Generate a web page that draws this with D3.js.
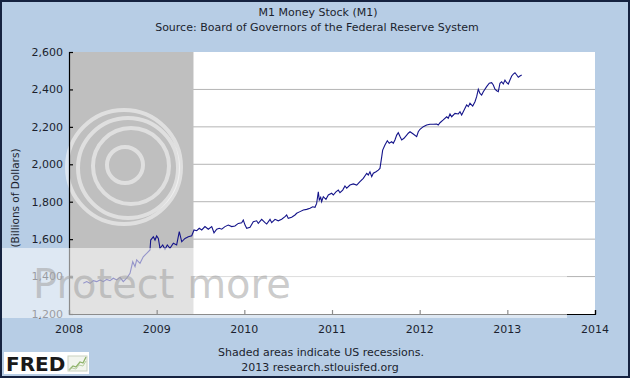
<!DOCTYPE html>
<html>
<head>
<meta charset="utf-8">
<script src="https://cdn.jsdelivr.net/npm/d3@7"></script>
<style>
body{margin:0;background:#fff}
svg text{font-family:"DejaVu Sans",Verdana,sans-serif}
</style>
</head>
<body>
<div id="chart"></div>
<script>
// M1 money stock, weekly-ish readings (decimal year, billions of dollars)
const dates = [
  2008.163,2008.202,2008.240,2008.277,2008.316,2008.354,2008.391,2008.430,2008.468,2008.505,
  2008.544,2008.582,2008.619,2008.658,2008.696,2008.727,2008.753,2008.772,2008.810,2008.847,
  2008.886,2008.924,2008.932,2008.962,2008.981,2009.000,2009.019,2009.038,2009.069,2009.095,
  2009.121,2009.152,2009.190,2009.228,2009.258,2009.286,2009.323,2009.361,2009.400,2009.426,
  2009.457,2009.486,2009.514,2009.551,2009.589,2009.628,2009.654,2009.685,2009.714,2009.742,
  2009.779,2009.817,2009.856,2009.893,2009.931,2009.970,2009.988,2010.008,2010.027,2010.065,
  2010.102,2010.141,2010.159,2010.198,2010.236,2010.255,2010.293,2010.312,2010.350,2010.387,
  2010.426,2010.464,2010.483,2010.501,2010.540,2010.578,2010.597,2010.635,2010.673,2010.711,
  2010.749,2010.780,2010.806,2010.825,2010.844,2010.855,2010.871,2010.882,2010.901,2010.931,
  2010.958,2010.996,2011.015,2011.045,2011.072,2011.091,2011.122,2011.148,2011.168,2011.205,
  2011.243,2011.282,2011.319,2011.357,2011.396,2011.414,2011.433,2011.453,2011.471,2011.502,
  2011.528,2011.547,2011.567,2011.578,2011.604,2011.631,2011.653,2011.681,2011.699,2011.718,
  2011.738,2011.756,2011.776,2011.795,2011.821,2011.852,2011.870,2011.890,2011.927,2011.966,
  2011.984,2012.004,2012.041,2012.080,2012.118,2012.155,2012.194,2012.212,2012.232,2012.269,
  2012.308,2012.326,2012.346,2012.365,2012.403,2012.441,2012.460,2012.479,2012.517,2012.536,
  2012.555,2012.574,2012.605,2012.631,2012.650,2012.669,2012.688,2012.707,2012.726,2012.764,
  2012.794,2012.821,2012.840,2012.859,2012.879,2012.897,2012.916,2012.935,2012.954,2012.973,
  2012.993,2013.011,2013.030,2013.050,2013.068,2013.087,2013.107,2013.125,2013.144,2013.164
];
const m1 = [
  1364,1373,1364,1378,1373,1382,1373,1385,1378,1391,
  1382,1396,1373,1391,1417,1479,1453,1489,1471,1506,
  1524,1542,1595,1613,1595,1617,1604,1551,1569,1546,
  1569,1551,1578,1569,1640,1586,1604,1613,1618,1649,
  1645,1658,1649,1667,1653,1667,1634,1653,1658,1653,
  1667,1675,1667,1670,1684,1688,1702,1675,1658,1663,
  1693,1698,1684,1706,1688,1681,1706,1688,1706,1698,
  1706,1720,1729,1711,1717,1729,1738,1747,1756,1759,
  1765,1773,1770,1791,1853,1809,1823,1800,1827,1813,
  1836,1845,1836,1853,1862,1848,1862,1884,1872,1889,
  1895,1889,1907,1925,1952,1943,1960,1934,1952,1960,
  1969,1978,2040,2076,2103,2126,2112,2121,2112,2130,
  2156,2169,2148,2130,2139,2156,2166,2174,2162,2148,
  2174,2187,2201,2210,2214,2214,2215,2210,2222,2237,
  2254,2246,2269,2254,2272,2269,2281,2263,2299,2317,
  2308,2326,2311,2334,2361,2401,2379,2370,2388,2415,
  2433,2436,2424,2401,2393,2388,2433,2441,2429,2450,
  2436,2429,2450,2472,2482,2489,2477,2465,2472,2477
];
const yTicks = [1200,1400,1600,1800,2000,2200,2400,2600];
const xTicks = [2008,2009,2010,2011,2012,2013,2014];
const recessions = [[2007.92, 2009.42]];

const W = 630, H = 378;
const svg = d3.select("#chart").append("svg")
  .attr("width", W).attr("height", H);

// background + frame
svg.append("rect").attr("x",1).attr("y",1).attr("width",W-2).attr("height",H-2)
  .attr("fill","#b7cde5").attr("stroke","#15223f").attr("stroke-width",2);

const x = d3.scaleLinear().domain([2008,2014]).range([69,595]);
const y = d3.scaleLinear().domain([1200,2600]).range([314,52]);

// plot area
svg.append("rect").attr("x",x(2008)).attr("y",y(2600))
  .attr("width",x(2014)-x(2008)).attr("height",y(1200)-y(2600)).attr("fill","#fff");

// gridlines
svg.append("g").selectAll("line").data(yTicks.slice(1,-1)).join("line")
  .attr("x1",x(2008)).attr("x2",x(2014))
  .attr("y1",d=>y(d)).attr("y2",d=>y(d))
  .attr("stroke","#b4b4b4").attr("stroke-width",1);

// recession shading
svg.append("g").selectAll("rect").data(recessions).join("rect")
  .attr("x",d=>x(Math.max(d[0],2008)))
  .attr("width",d=>x(d[1])-x(Math.max(d[0],2008)))
  .attr("y",y(2600)).attr("height",y(1200)-y(2600))
  .attr("fill","#bfbfbf");

// watermark rings (photo host logo)
const rings = svg.append("g").attr("fill","none").attr("stroke","#fff")
  .attr("stroke-opacity",0.5).attr("stroke-width",4);
[[124,167,57],[128,168,50],[131,166,38],[125,165,18]].forEach(c=>{
  rings.append("circle").attr("cx",c[0]).attr("cy",c[1]).attr("r",c[2]);
});

// axes
const yAxis = svg.append("g").attr("transform",`translate(${x(2008)},0)`)
  .call(d3.axisRight(y).tickValues(yTicks).tickSize(4).tickFormat(""));
const xAxis = svg.append("g").attr("transform",`translate(0,${y(1200)})`)
  .call(d3.axisTop(x).tickValues(xTicks).tickSize(4).tickFormat(""));
[yAxis,xAxis].forEach(g=>{
  g.selectAll("path,line").attr("stroke","#000").attr("stroke-width",1.2);
});

svg.append("g").selectAll("text").data(yTicks).join("text")
  .attr("x",63).attr("y",d=>y(d)).attr("dy","0.35em")
  .attr("text-anchor","end").attr("font-size","11px").attr("fill","#1b1f2e")
  .text(d=>d3.format(",")(d));

svg.append("g").selectAll("text").data(xTicks).join("text")
  .attr("x",d=>x(d)).attr("y",333)
  .attr("text-anchor","middle").attr("font-size","11px").attr("fill","#1b1f2e")
  .text(d=>d);

// series
const pts = dates.map((d,i)=>[d,m1[i]]);
svg.append("path").datum(pts)
  .attr("fill","none").attr("stroke","#14148a").attr("stroke-width",1.1)
  .attr("d", d3.line().x(d=>x(d[0])).y(d=>y(d[1])));

// titles
svg.append("text").attr("x",318).attr("y",16).attr("text-anchor","middle")
  .attr("font-size","11px").attr("fill","#1b1f2e").text("M1 Money Stock (M1)");
svg.append("text").attr("x",317).attr("y",31).attr("text-anchor","middle")
  .attr("font-size","11px").attr("fill","#1b1f2e")
  .text("Source: Board of Governors of the Federal Reserve System");
svg.append("text").attr("transform","translate(19,198) rotate(-90)")
  .attr("text-anchor","middle").attr("font-size","10.5px").attr("fill","#1b1f2e")
  .text("(Billions of Dollars)");

// footer
svg.append("text").attr("x",321).attr("y",356).attr("text-anchor","middle")
  .attr("font-size","11px").attr("fill","#1b1f2e").text("Shaded areas indicate US recessions.");
svg.append("text").attr("x",320).attr("y",371).attr("text-anchor","middle")
  .attr("font-size","11px").attr("fill","#1b1f2e").text("2013 research.stlouisfed.org");

// watermark band
svg.append("rect").attr("x",2).attr("y",248).attr("width",565).attr("height",70)
  .attr("fill","#fff").attr("opacity",0.55);
svg.append("text").attr("x",33).attr("y",298)
  .attr("font-size","40px")
  .attr("fill","#a0a0a0").attr("fill-opacity",0.55).text("Protect more");

// FRED logo
const logo = svg.append("g");
logo.append("rect").attr("x",4).attr("y",352).attr("width",85).attr("height",22).attr("fill","#fff");
logo.append("text").attr("x",6).attr("y",371)
  .attr("font-family","'Liberation Sans',Arial,sans-serif").attr("font-weight","bold")
  .attr("font-size","20px").attr("fill","#1a1a1a").text("FRED");
logo.append("rect").attr("x",68).attr("y",356).attr("width",19).attr("height",15)
  .attr("fill","#f2f5ee").attr("stroke","#c9d2c0");
logo.append("path").attr("d","M69,370 L73,366 L76,367 L80,362 L83,363 L86,357")
  .attr("fill","none").attr("stroke","#8fb36b").attr("stroke-width",1.3);
logo.append("path").attr("d","M69,370 L72,368 L76,369 L79,365 L83,366 L86,361")
  .attr("fill","none").attr("stroke","#b9cfa3").attr("stroke-width",1);
</script>
</body>
</html>
